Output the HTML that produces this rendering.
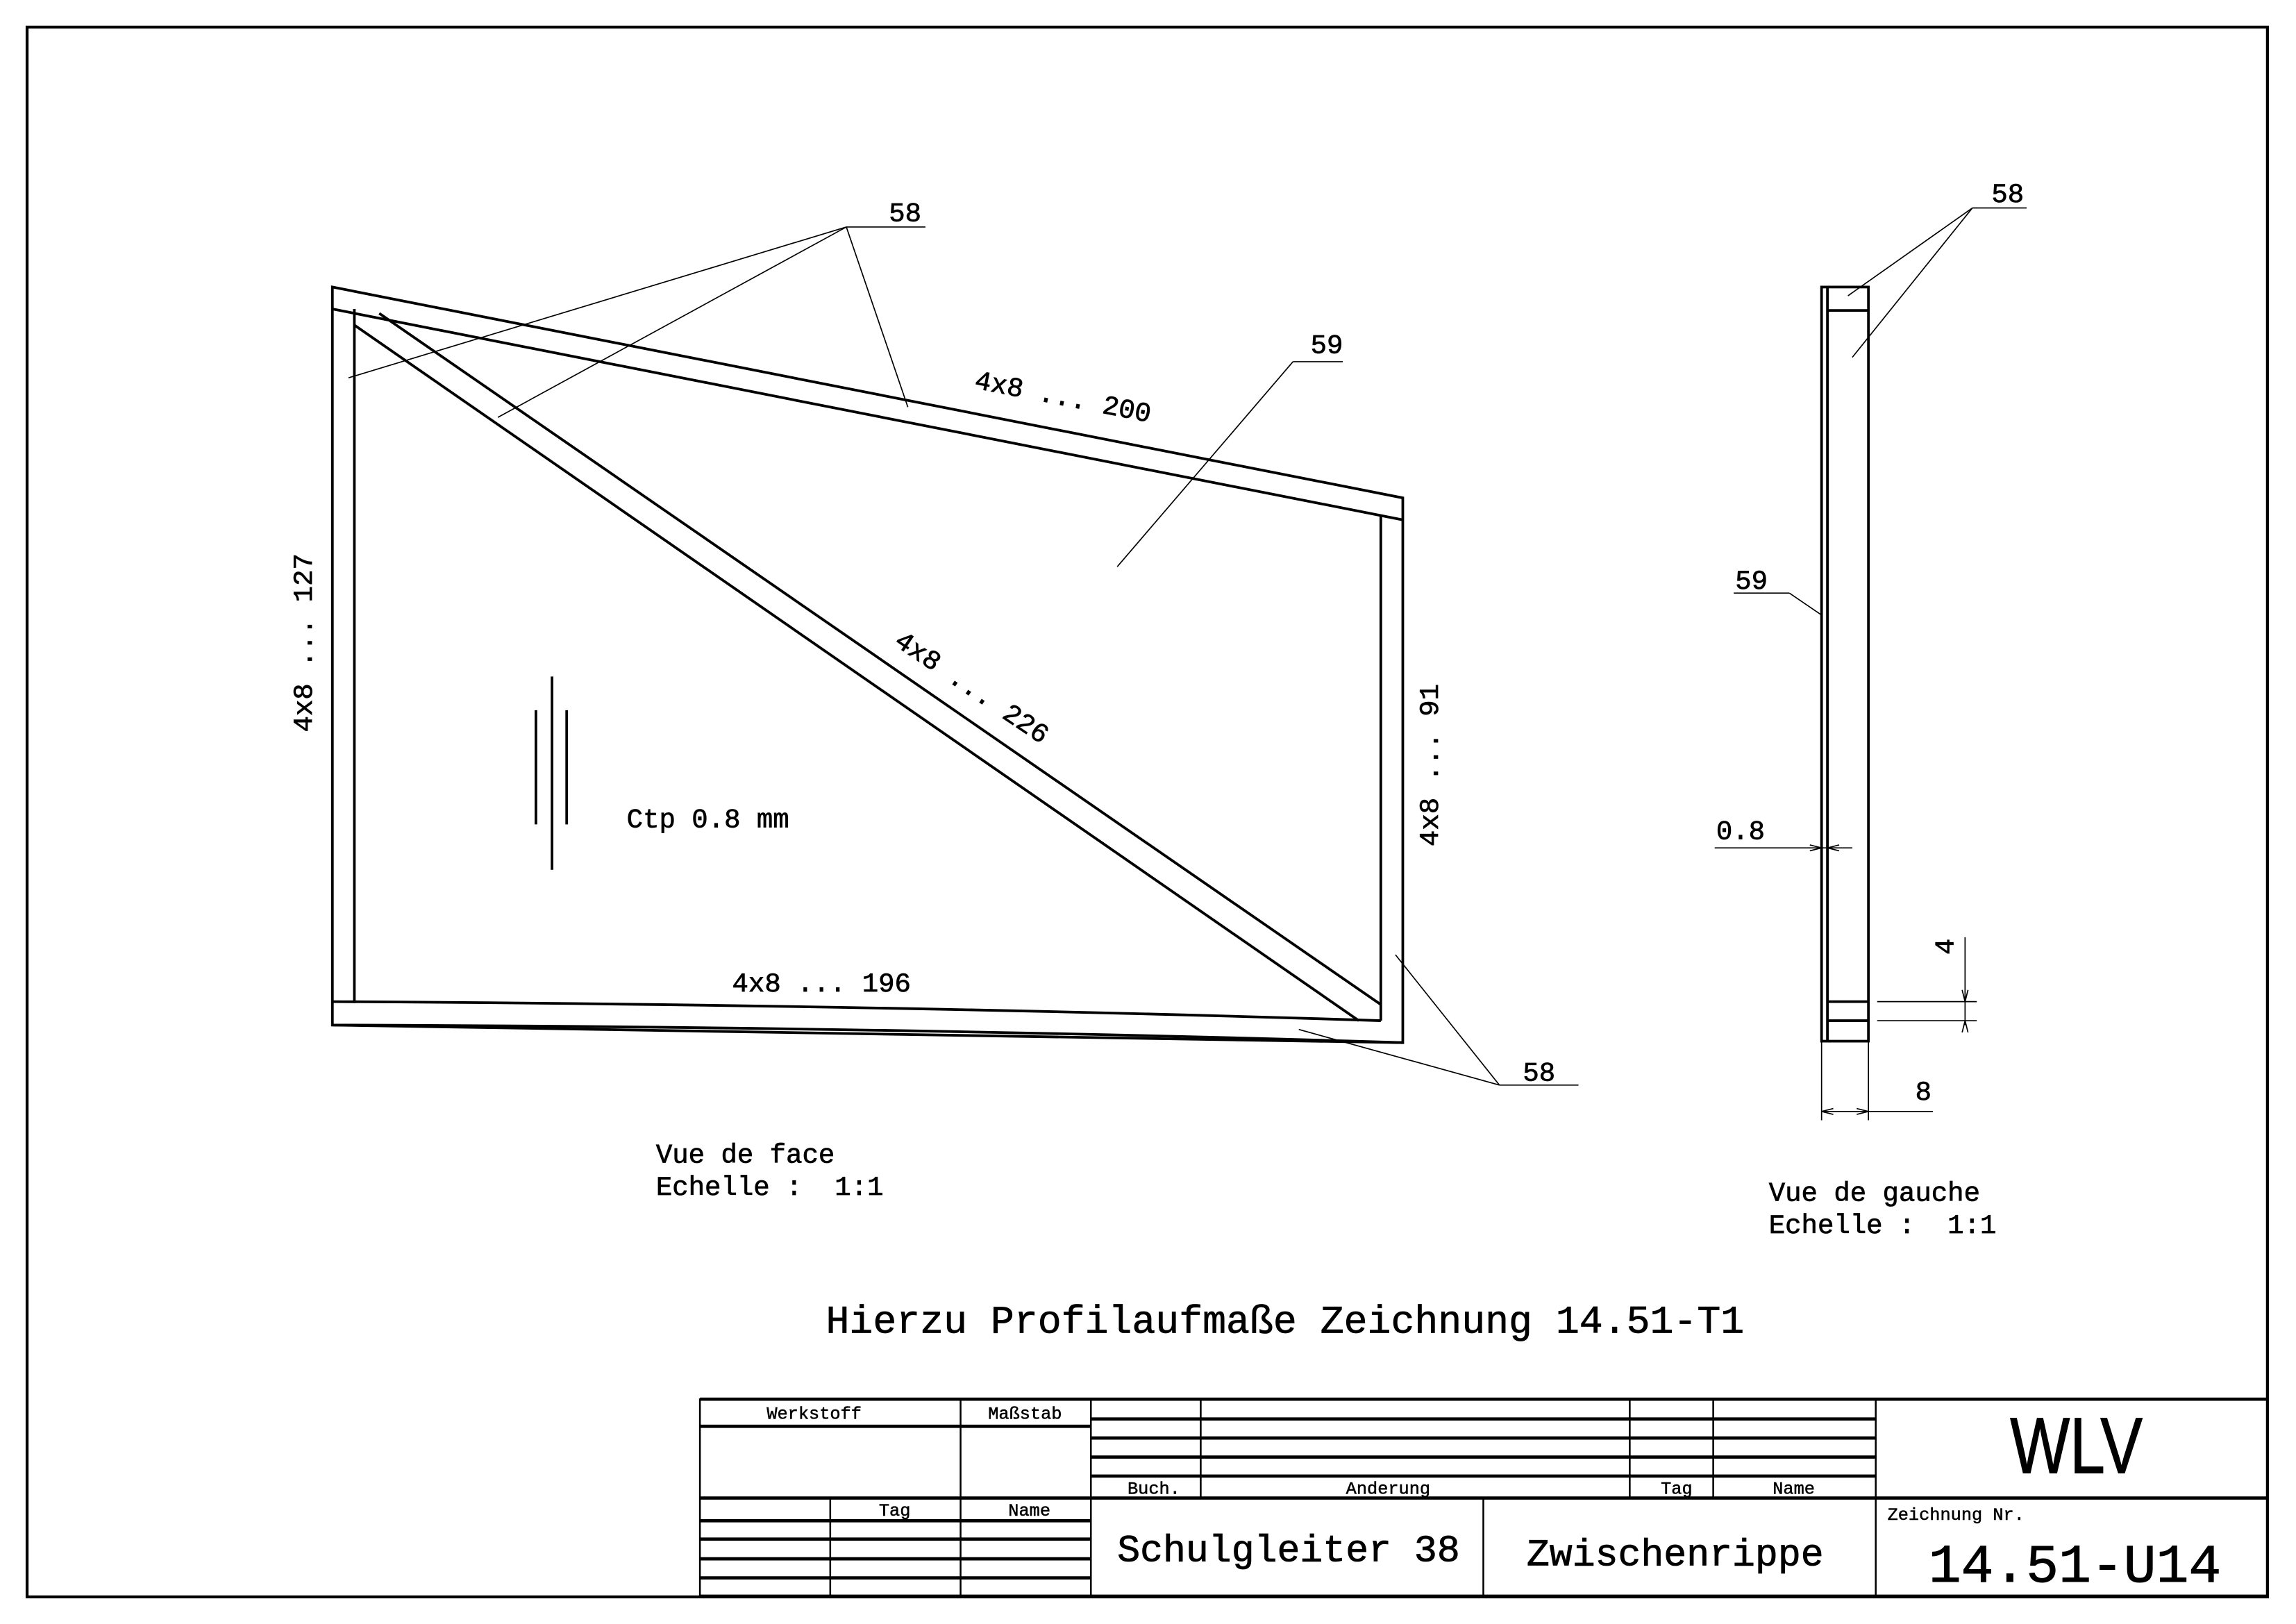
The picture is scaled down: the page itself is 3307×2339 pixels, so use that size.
<!DOCTYPE html>
<html><head><meta charset="utf-8"><style>html,body{margin:0;padding:0;background:#fff}svg{display:block}</style></head><body>
<svg width="3307" height="2339" viewBox="0 0 1568 1109" xmlns="http://www.w3.org/2000/svg" font-family="Liberation Mono, monospace" fill="none" stroke="#000">
<rect x="0" y="0" width="1568" height="1109" fill="#fff" stroke="none"/>
<rect x="18.5" y="18.5" width="1530" height="1072" stroke-width="2"/>
<g stroke-width="1.8">
<polygon points="227,196 958,340 958,712 227,700"/>
<line x1="227" y1="211" x2="958" y2="355"/>
<line x1="242" y1="211" x2="242" y2="685"/>
<line x1="943" y1="352" x2="943" y2="697"/>
<path d="M227,684 Q600,686 943,697"/>
<path d="M227,700 Q600,701 958,712"/>
<line x1="242" y1="222" x2="928" y2="697"/>
<line x1="259" y1="214" x2="943" y2="686"/>
<line x1="366" y1="485" x2="366" y2="563"/>
<line x1="377" y1="462" x2="377" y2="594"/>
<line x1="387" y1="485" x2="387" y2="563"/>
</g>
<g stroke-width="0.8">
<line x1="578" y1="155" x2="632" y2="155"/>
<line x1="578" y1="155" x2="238" y2="258"/>
<line x1="578" y1="155" x2="340" y2="285"/>
<line x1="578" y1="155" x2="620" y2="278"/>
<line x1="883" y1="247" x2="917" y2="247"/>
<line x1="883" y1="247" x2="763" y2="387"/>
<line x1="1024" y1="741" x2="1078" y2="741"/>
<line x1="1024" y1="741" x2="953" y2="652"/>
<line x1="1024" y1="741" x2="887" y2="703"/>
<line x1="1347" y1="142" x2="1384" y2="142"/>
<line x1="1347" y1="142" x2="1262" y2="202"/>
<line x1="1347" y1="142" x2="1265" y2="244"/>
<line x1="1184" y1="405" x2="1222" y2="405"/>
<line x1="1222" y1="405" x2="1244" y2="420"/>
<line x1="1171" y1="579" x2="1265" y2="579"/>
<line x1="1282" y1="684" x2="1350" y2="684"/>
<line x1="1282" y1="697" x2="1350" y2="697"/>
<line x1="1342" y1="640" x2="1342" y2="700"/>
<line x1="1244" y1="711" x2="1244" y2="765"/>
<line x1="1276" y1="711" x2="1276" y2="765"/>
<line x1="1244" y1="759" x2="1320" y2="759"/>
<path d="M1244,579 l-8,-2 M1244,579 l-8,2 M1248,579 l8,-2 M1248,579 l8,2 M1342,684 l-2,-8 M1342,684 l2,-8 M1342,697 l-2,8 M1342,697 l2,8 M1244,759 l8,-2 M1244,759 l8,2 M1276,759 l-8,-2 M1276,759 l-8,2"/>
</g>
<g stroke-width="1.8">
<rect x="1244" y="196" width="32" height="515"/>
<line x1="1248" y1="196" x2="1248" y2="711"/>
<line x1="1248" y1="212" x2="1276" y2="212"/>
<line x1="1248" y1="684" x2="1276" y2="684"/>
<line x1="1248" y1="697" x2="1276" y2="697"/>
</g>
<g fill="#000" stroke="#000" stroke-width="0.35" font-size="18.5">
<text x="607" y="151">58</text>
<text x="895" y="241">59</text>
<text x="1040" y="738">58</text>
<text x="1360" y="138">58</text>
<text x="1185" y="402">59</text>
<text x="1172" y="573">0.8</text>
<text x="1308" y="751">8</text>
<text transform="translate(1334,652) rotate(-90)">4</text>
<text transform="translate(665,265) rotate(11)">4x8 ... 200</text>
<text transform="translate(610,440) rotate(34)">4x8 ... 226</text>
<text x="500" y="677">4x8 ... 196</text>
<text transform="translate(213,500) rotate(-90)">4x8 ... 127</text>
<text transform="translate(982,578) rotate(-90)">4x8 ... 91</text>
<text x="428" y="565">Ctp 0.8 mm</text>
<text x="448" y="794">Vue de face</text>
<text x="448" y="816">Echelle :&#160; 1:1</text>
<text x="1208" y="820">Vue de gauche</text>
<text x="1208" y="842">Echelle :&#160; 1:1</text>
<text x="564" y="910" font-size="26.8">Hierzu Profilaufmaße Zeichnung 14.51-T1</text>
</g>
<g stroke-width="1.2">
<line x1="567" y1="1023" x2="567" y2="1090"/>
<line x1="656" y1="955" x2="656" y2="1090"/>
<line x1="745" y1="955" x2="745" y2="1090"/>
<line x1="820" y1="955" x2="820" y2="1023"/>
<line x1="1113" y1="955" x2="1113" y2="1023"/>
<line x1="1170" y1="955" x2="1170" y2="1023"/>
<line x1="1013" y1="1023" x2="1013" y2="1090"/>
<line x1="1281" y1="955" x2="1281" y2="1090"/>
<line x1="478" y1="955" x2="478" y2="1090"/>
</g>
<g stroke-width="2.2">
<line x1="478" y1="955.5" x2="1548" y2="955.5"/>
<line x1="478" y1="1023" x2="1548" y2="1023"/>
<line x1="478" y1="974" x2="745" y2="974"/>
<line x1="745" y1="969" x2="1281" y2="969"/>
<line x1="745" y1="982" x2="1281" y2="982"/>
<line x1="745" y1="995" x2="1281" y2="995"/>
<line x1="745" y1="1008" x2="1281" y2="1008"/>
<line x1="478" y1="1038.5" x2="745" y2="1038.5"/>
<line x1="478" y1="1051" x2="745" y2="1051"/>
<line x1="478" y1="1064.5" x2="745" y2="1064.5"/>
<line x1="478" y1="1077.5" x2="745" y2="1077.5"/>
<line x1="478" y1="1090" x2="1548" y2="1090"/>
</g>
<g fill="#000" stroke="#000" stroke-width="0.25" font-size="12">
<text x="556" y="969" text-anchor="middle">Werkstoff</text>
<text x="700" y="969" text-anchor="middle">Maßstab</text>
<text x="788" y="1020" text-anchor="middle">Buch.</text>
<text x="948" y="1020" text-anchor="middle">Anderung</text>
<text x="1145" y="1020" text-anchor="middle">Tag</text>
<text x="1225" y="1020" text-anchor="middle">Name</text>
<text x="611" y="1035" text-anchor="middle">Tag</text>
<text x="703" y="1035" text-anchor="middle">Name</text>
<text x="1289" y="1038">Zeichnung Nr.</text>
<text x="880" y="1066" text-anchor="middle" font-size="26" stroke-width="0.4">Schulgleiter 38</text>
<text x="1144" y="1069" text-anchor="middle" font-size="26" stroke-width="0.4">Zwischenrippe</text>
<text x="1417" y="1080" text-anchor="middle" font-size="37" stroke-width="0.5">14.51-U14</text>
<text x="1418" y="1006" text-anchor="middle" font-family="Liberation Sans, sans-serif" font-size="54" stroke-width="0.6" transform="translate(1418,1006) scale(0.8,1) translate(-1418,-1006)">WLV</text>
</g>
</svg>
</body></html>
